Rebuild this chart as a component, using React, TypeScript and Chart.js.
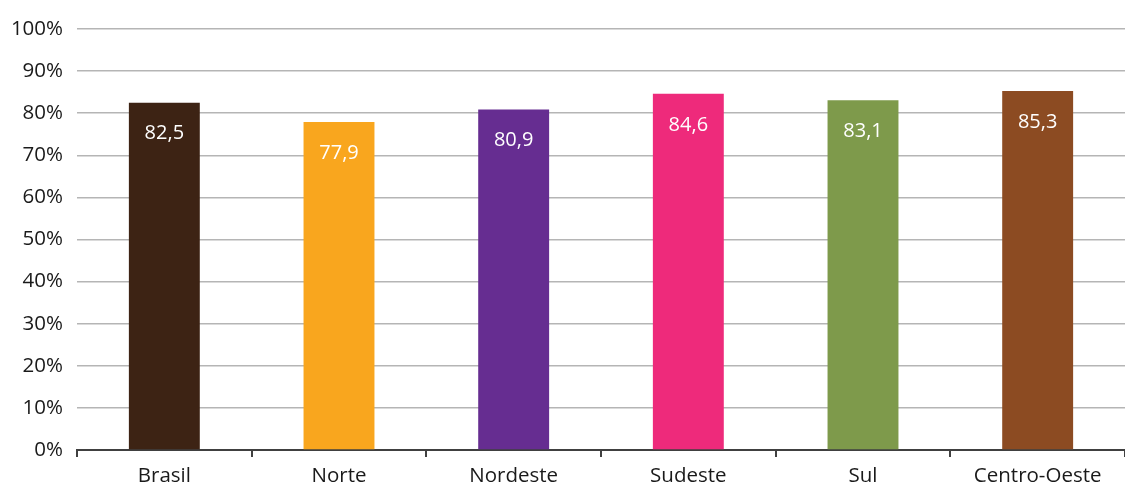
import React, { useEffect, useRef } from "react";
import { Chart, registerables } from "chart.js";

Chart.register(...registerables);

const categories = ["Brasil", "Norte", "Nordeste", "Sudeste", "Sul", "Centro-Oeste"];
const values = [82.5, 77.9, 80.9, 84.6, 83.1, 85.3];
const barColors = ["#3d2314", "#f9a61e", "#662d91", "#ee2a7b", "#7e9a4b", "#8c4b22"];
const valueLabels = ["82,5", "77,9", "80,9", "84,6", "83,1", "85,3"];

const FONT = "'Open Sans', sans-serif";

const labelPlugin = {
  id: "valueLabels",
  afterDatasetsDraw(chart: any) {
    const ctx = chart.ctx;
    const meta = chart.getDatasetMeta(0);
    ctx.save();
    ctx.fillStyle = "#ffffff";
    ctx.font = `20px ${FONT}`;
    ctx.textAlign = "center";
    ctx.textBaseline = "middle";
    meta.data.forEach((bar: any, i: number) => {
      ctx.fillText(valueLabels[i], bar.x, bar.y + 31);
    });
    ctx.restore();
  },
};

export default function App() {
  const ref = useRef<HTMLCanvasElement>(null);
  useEffect(() => {
    if (!ref.current) return;
    const chart = new Chart(ref.current, {
      type: "bar",
      data: {
        labels: categories,
        datasets: [
          {
            data: values,
            backgroundColor: barColors,
            barPercentage: 0.406,
            categoryPercentage: 1,
          },
        ],
      },
      options: {
        animation: false,
        responsive: false,
        maintainAspectRatio: false,
        layout: { padding: { top: 29, right: 0, left: 0, bottom: 0 } },
        plugins: { legend: { display: false }, tooltip: { enabled: false } },
        scales: {
          x: {
            offset: true,
            grid: {
              offset: true,
              drawOnChartArea: false,
              drawTicks: true,
              tickLength: 7,
              color: "#404040",
              lineWidth: 2,
            },
            border: { display: true, color: "#404040", width: 2 },
            ticks: { color: "#1a1a1a", font: { family: FONT, size: 20.5 }, padding: 7 },
            afterFit(scale: any) {
              scale.height = 34;
            },
          },
          y: {
            min: 0,
            max: 100,
            ticks: {
              stepSize: 10,
              color: "#1a1a1a",
              font: { family: FONT, size: 20.5 },
              padding: 14,
              callback: (v: any) => `${v}%`,
            },
            grid: { color: "#b5b5b5", lineWidth: 1.5, drawTicks: false },
            border: { display: false },
            afterFit(scale: any) {
              scale.width = 77;
            },
          },
        },
      },
      plugins: [labelPlugin],
    });
    return () => chart.destroy();
  }, []);
  return (
    <div style={{ position: "fixed", left: 0, top: 0, width: 1125, height: 484, background: "#fff" }}>
      <canvas ref={ref} width={1125} height={484} />
    </div>
  );
}
